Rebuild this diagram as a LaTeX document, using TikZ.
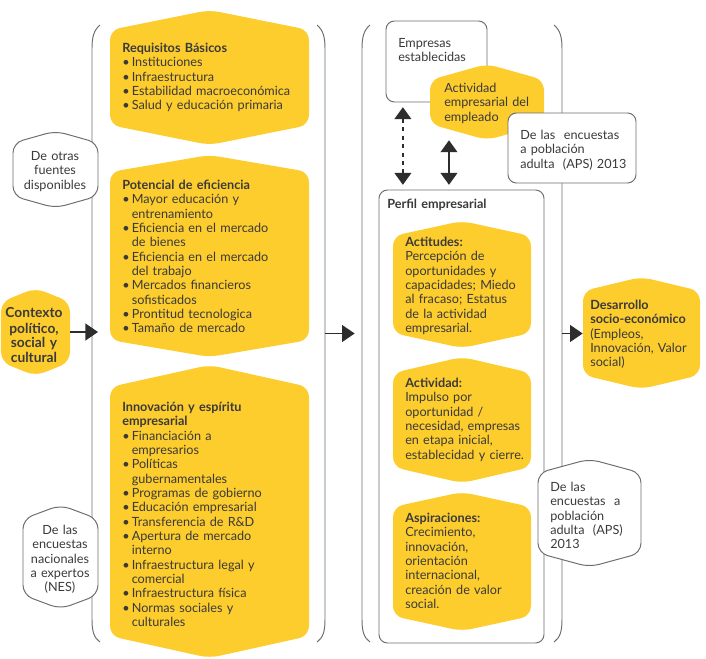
\documentclass[tikz,border=0pt]{standalone}
\usepackage{fontspec}
\setmainfont{Lato}
\usepackage{xcolor}
\usepackage{tikz}
\usetikzlibrary{arrows.meta, fit}
\definecolor{gemyellow}{RGB}{253,204,45}
\definecolor{gemtext}{RGB}{58,58,58}
\definecolor{gemline}{RGB}{110,110,110}
\definecolor{gemarrow}{RGB}{45,45,45}
\setlength{\parindent}{0pt}

\tikzstyle{yellowhex} = [fill=gemyellow, rounded corners=7pt]
\tikzstyle{grayhex} = [fill=white, draw=gemline, line width=0.7pt, rounded corners=7pt]
\tikzstyle{graybox} = [fill=white, draw=gemline, line width=0.7pt, rounded corners=6pt]
\tikzstyle{frame} = [draw=gemline, line width=0.7pt]
\tikzstyle{txt} = [inner sep=0pt, anchor=north west, align=left, text width=4.6cm, text=gemtext, font=\fontsize{9}{10.2}\selectfont, execute at begin node=\strut]
\tikzstyle{ctxt} = [txt, anchor=north, align=center, text width=2.3cm]
\tikzstyle{arrow} = [line width=1pt, draw=gemarrow, -{Triangle[length=9pt,width=12pt]}]
\tikzstyle{dblarrow} = [line width=1pt, draw=gemarrow, {Triangle[length=8.5pt,width=12pt]}-{Triangle[length=8.5pt,width=12pt]}]

% hexagon with a peak on top and bottom: name, style, left, top, right, bottom, rise
\newcommand{\hexa}[7]{%
  \path[#2] (#3,#4) -- ({(#3+#5)/2},{#4-#7}) -- (#5,#4) -- (#5,#6) -- ({(#3+#5)/2},{#6+#7}) -- (#3,#6) -- cycle;
  \node[inner sep=0pt, fit={(#3,{#4-#7}) (#5,{#6+#7})}] (#1) {};
}
% bullet item and its wrapped line
\newcommand{\bul}[1]{\\\makebox[0.75em][l]{\textbullet}#1}
\newcommand{\more}[1]{\\\hspace*{0.75em}#1}

\begin{document}
\begin{tikzpicture}[x=0.025cm, y=-0.025cm]
	\useasboundingbox (0,0) rectangle (706,659);
	
	% the two open frames
	\draw[frame] (100,25) .. controls (94,30) and (92,37) .. (92,48) -- (92,620) .. controls (92,631) and (94,638) .. (100,642);
	\draw[frame] (317,25) .. controls (323,30) and (325,37) .. (325,48) -- (325,620) .. controls (325,631) and (323,638) .. (317,642);
	\draw[frame] (370,25) .. controls (364,30) and (362,37) .. (362,48) -- (362,620) .. controls (362,631) and (364,638) .. (370,642);
	\draw[frame] (554,25) .. controls (560,30) and (562,37) .. (562,48) -- (562,620) .. controls (562,631) and (560,638) .. (554,642);
	\node[inner sep=0pt, fit={(92,25) (325,642)}] (pilares) {};
	\node[inner sep=0pt, fit={(362,25) (562,642)}] (gem) {};
	
	% pillars
	\hexa{req}{yellowhex}{110}{30}{309}{125}{20}
	\hexa{pot}{yellowhex}{110}{172}{309}{340}{17}
	\hexa{inn}{yellowhex}{110}{387}{309}{636}{22}
	\node (reqt) [txt] at (122,42) {\textbf{Requisitos Básicos}\bul{Instituciones}\bul{Infraestructura}\bul{Estabilidad macroeconómica}\bul{Salud y educación primaria}};
	\node (pott) [txt] at (122,179) {\textbf{Potencial de eficiencia}\bul{Mayor educación y}\more{entrenamiento}\bul{Eficiencia en el mercado}\more{de bienes}\bul{Eficiencia en el mercado}\more{del trabajo}\bul{Mercados financieros}\more{sofisticados}\bul{Prontitud tecnologica}\bul{Tamaño de mercado}};
	\node (innt) [txt] at (122,401) {\textbf{Innovación y espíritu\\empresarial}\bul{Financiación a}\more{empresarios}\bul{Políticas}\more{gubernamentales}\bul{Programas de gobierno}\bul{Educación empresarial}\bul{Transferencia de R\&D}\bul{Apertura de mercado}\more{interno}\bul{Infraestructura legal y}\more{comercial}\bul{Infraestructura física}\bul{Normas sociales y}\more{culturales}};
	
	% context and sources on the left
	\hexa{ctx}{yellowhex}{1}{302}{70}{362}{14}
	\node (ctxt) [ctxt, font=\fontsize{9.8}{10.2}\selectfont\bfseries] at (34,307) {Contexto\\político,\\social y\\cultural};
	\hexa{otras}{grayhex}{13}{143}{98}{196}{12}
	\node (otrast) [ctxt] at (55,150) {De otras\\fuentes\\disponibles};
	\hexa{nes}{grayhex}{23}{519}{98}{595}{14}
	\node (nest) [ctxt] at (60,524) {De las\\encuestas\\nacionales\\a expertos\\(NES)};
	
	% entrepreneurship side
	\draw[graybox] (379,190) rectangle (544,643);
	\node[inner sep=0pt, fit={(379,190) (544,643)}] (perfil) {};
	\node (perfilt) [txt] at (387,198) {\textbf{Perfil empresarial}};
	\draw[graybox] (386,21) rectangle (487,102);
	\node[inner sep=0pt, fit={(386,21) (487,102)}] (emp) {};
	\node (empt) [txt] at (398,37) {Empresas\\establecidas};
	\hexa{emple}{yellowhex}{430}{80}{544}{124}{16}
	\node (emplet) [txt] at (444,82) {Actividad\\empresarial del\\empleado};
	\draw[graybox] (508,113) rectangle (636,183);
	\node[inner sep=0pt, fit={(508,113) (636,183)}] (aps) {};
	\node (apst) [txt] at (520,129) {De las~ encuestas\\a población\\adulta~ (APS) 2013};
	
	\hexa{acti}{yellowhex}{393}{236}{531}{333}{15}
	\node (actit) [txt] at (405,236) {\textbf{Actitudes:}\\Percepción de\\oportunidades y\\capacidades; Miedo\\al fracaso; Estatus\\de la actividad\\empresarial.};
	\hexa{activ}{yellowhex}{393}{373}{531}{467}{16}
	\node (activt) [txt] at (405,377) {\textbf{Actividad:}\\Impulso por\\oportunidad /\\necesidad, empresas\\en etapa inicial,\\establecidad y cierre.};
	\hexa{aspi}{yellowhex}{393}{507}{531}{616}{15}
	\node (aspit) [txt] at (405,512) {\textbf{Aspiraciones:}\\Crecimiento,\\innovación,\\orientación\\internacional,\\creación de valor\\social.};
	\hexa{aps2}{grayhex}{538}{473}{641}{553}{14}
	\node (aps2t) [txt] at (550,481) {De las\\encuestas~ a\\población\\adulta~ (APS)\\2013};
	
	\hexa{des}{yellowhex}{583}{291}{700}{375}{14}
	\node (dest) [txt] at (590,299) {\textbf{Desarrollo\\socio-económico}\\(Empleos,\\Innovación, Valor\\social)};
	
	% arrows
	\draw[arrow, shorten >=-4.5pt] (ctx.east) -- (ctx.east -| pilares.west);
	\draw[arrow, shorten >=5pt] (pilares.east) -- (pilares.east -| gem.west);
	\draw[arrow] (gem.east) -- (gem.east -| des.west);
	\draw[dblarrow, dash pattern=on 3pt off 3pt, shorten <=3.5pt, shorten >=3.5pt] ([xshift=-0.84cm]emp.south) -- ([xshift=-0.84cm]emp.south |- perfil.north);
	\draw[dblarrow, shorten >=3.5pt] ([xshift=-0.95cm]emple.south) -- ([xshift=-0.95cm]emple.south |- perfil.north);
	
\end{tikzpicture}
\end{document}
